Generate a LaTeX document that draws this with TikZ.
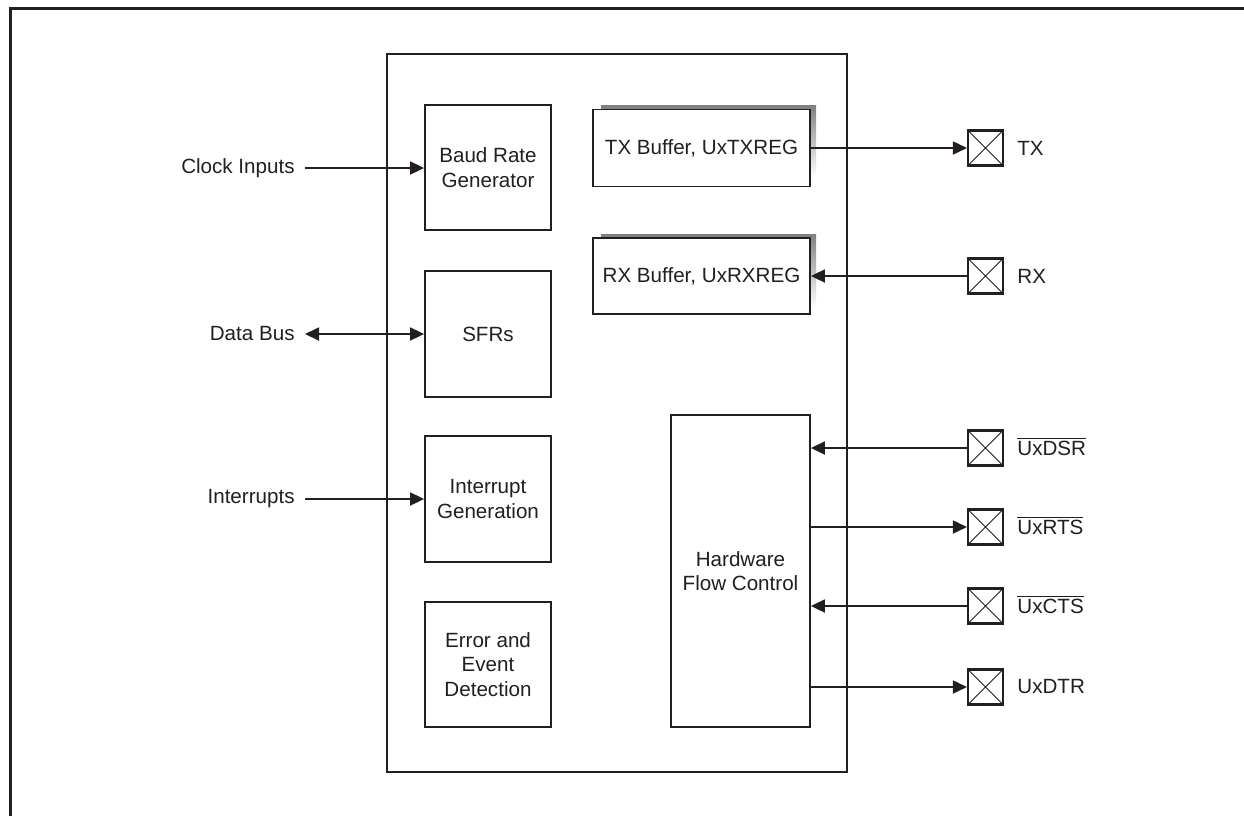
\documentclass[tikz,border=0pt]{standalone}
\usepackage{fontspec}
\setmainfont{Liberation Sans}
\usetikzlibrary{arrows.meta}
\definecolor{ink}{HTML}{231F20}
\definecolor{shade}{HTML}{858585}
\tikzset{
  blk/.style={draw=ink, line width=0.9pt, fill=white, align=center, inner sep=0pt, text=ink},
  pinbox/.style={draw=ink, line width=1.05pt, minimum width=17.5pt, minimum height=17.5pt, inner sep=0pt,
    path picture={\draw[ink, line width=0.45pt] (path picture bounding box.south west) -- (path picture bounding box.north east)
      (path picture bounding box.north west) -- (path picture bounding box.south east);}},
  lbl/.style={text=ink, inner sep=0pt},
  arr/.style={draw=ink, line width=0.9pt, -{Triangle[length=7pt,width=6.5pt]}},
  darr/.style={draw=ink, line width=0.9pt, {Triangle[length=7pt,width=6.5pt]}-{Triangle[length=7pt,width=6.5pt]}},
}
\begin{document}
\begin{tikzpicture}[x=0.5pt,y=-0.5pt, font=\fontsize{10.3}{12.2}\selectfont]
\useasboundingbox (0,0) rectangle (1244,816);
% outer frame
\draw[ink, line width=1.5pt] (10,816) -- (10,8) -- (1244,8);
% main container
\node[blk, minimum width=230pt, minimum height=359pt] (main) at (617,413) {};
% left blocks
\node[blk, minimum width=63pt, minimum height=62.5pt] (baud) at (488,167.5) {Baud Rate\\Generator};
\node[blk, minimum width=63pt, minimum height=63pt] (sfr) at (488,334) {SFRs};
\node[blk, minimum width=63pt, minimum height=63pt] (intg) at (488,499) {Interrupt\\Generation};
\node[blk, minimum width=63pt, minimum height=62.5pt] (err) at (488,664.5) {Error and\\Event\\Detection};
% buffer shadows
\fill[shade] (601,105) rectangle (816,178);
\fill[shade] (601,234) rectangle (816,308);
% buffers
\node[blk, minimum width=108.5pt, minimum height=38.5pt] (txb) at (701.5,148) {TX Buffer, UxTXREG};
\node[blk, minimum width=108.5pt, minimum height=38pt] (rxb) at (701.5,276) {RX Buffer, UxRXREG};
% hardware flow control
\node[blk, minimum width=69.5pt, minimum height=156pt] (hfc) at (740.5,571) {Hardware\\Flow Control};
% pins
\node[pinbox] (ptx) at (985.5,148) {};
\node[pinbox] (prx) at (985.5,276) {};
\node[pinbox] (pdsr) at (985.5,448) {};
\node[pinbox] (prts) at (985.5,527) {};
\node[pinbox] (pcts) at (985.5,606) {};
\node[pinbox] (pdtr) at (985.5,687) {};
% pin labels
\node[lbl, anchor=west] (ltx) at (1017,148) {TX};
\node[lbl, anchor=west] (lrx) at (1017,276) {RX};
\node[lbl, anchor=west] (ldsr) at (1017,446) {$\overline{\mbox{UxDSR}}$};
\node[lbl, anchor=west] (lrts) at (1017,525) {$\overline{\mbox{UxRTS}}$};
\node[lbl, anchor=west] (lcts) at (1017,604) {$\overline{\mbox{UxCTS}}$};
\node[lbl, anchor=west] (ldtr) at (1017,687) {UxDTR};
% left labels
\node[lbl, anchor=east, inner xsep=5pt] (clk) at (305,168) {Clock Inputs};
\node[lbl, anchor=east, inner xsep=5pt] (dbus) at (305,334) {Data Bus};
\node[lbl, anchor=east, inner xsep=5pt] (irq) at (305,499) {Interrupts};
% left connectors
\draw[arr] (clk.east) -- (baud.west |- clk.east);
\draw[darr] (dbus.east) -- (sfr.west);
\draw[arr] (irq.east) -- (intg.west);
% right connectors
\draw[arr] (txb.east) -- (ptx.west);
\draw[arr] (prx.west) -- (rxb.east);
\draw[arr] (pdsr.west) -- (hfc.east |- pdsr.west);
\draw[arr] (hfc.east |- prts.west) -- (prts.west);
\draw[arr] (pcts.west) -- (hfc.east |- pcts.west);
\draw[arr] (hfc.east |- pdtr.west) -- (pdtr.west);
\end{tikzpicture}
\end{document}
